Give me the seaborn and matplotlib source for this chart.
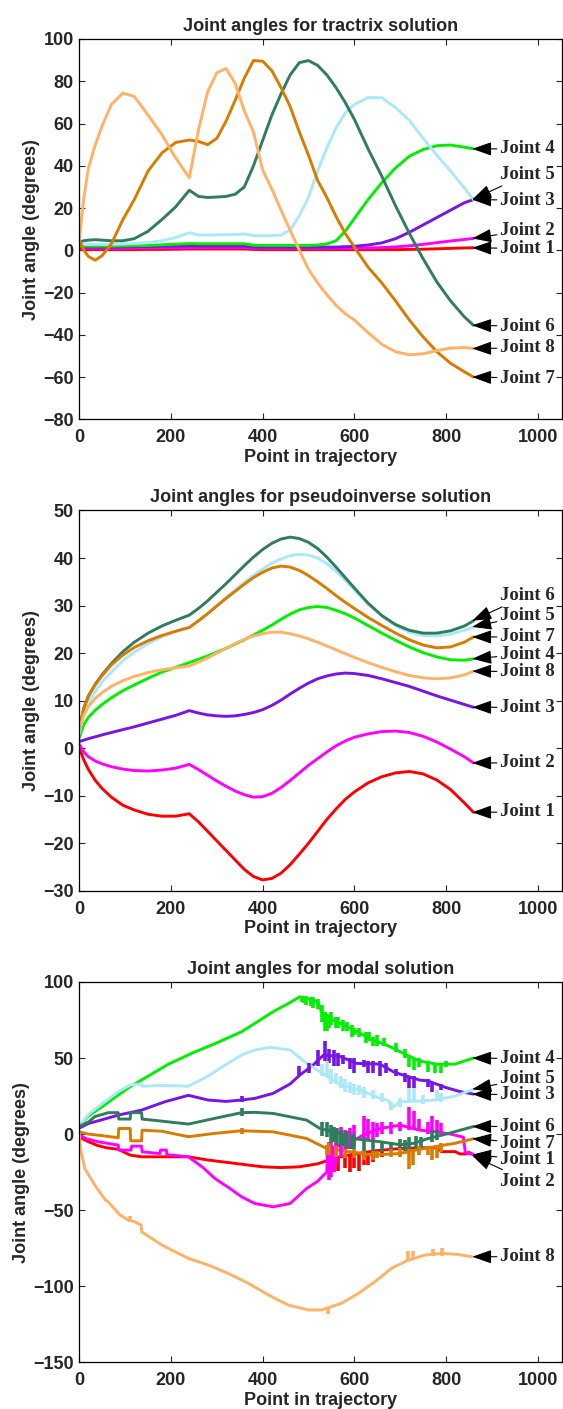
import numpy as np
import pandas as pd
import matplotlib
matplotlib.use("Agg")
import matplotlib.pyplot as plt
import seaborn as sns

# ---------------- data ----------------
joints = ["Joint 1", "Joint 2", "Joint 3", "Joint 4", "Joint 5", "Joint 6", "Joint 7", "Joint 8"]
colors = ["#ff0000", "#ff00ff", "#7814e6", "#00f000", "#aae8fa", "#2f7d5c", "#da7b00", "#ffb266"]

# shared sample points for tractrix and pseudoinverse panels
x_grid = [0, 10, 20, 35, 50, 70, 95, 120, 150, 180, 210, 240, 260, 280, 300, 320, 340, 360, 380, 400,
          420, 440, 460, 480, 500, 520, 540, 560, 580, 600, 630, 660, 690, 720, 750, 780, 810, 840, 860]

# tractrix solution
tr_j1 = [0.3, 0.3, 0.3, 0.3, 0.3, 0.3, 0.3, 0.3, 0.4, 0.4, 0.5, 0.6, 0.6, 0.6, 0.6, 0.6, 0.6, 0.6, 0.4, 0.3,
         0.3, 0.3, 0.3, 0.3, 0.3, 0.3, 0.3, 0.3, 0.3, 0.3, 0.3, 0.3, 0.3, 0.4, 0.5, 0.7, 0.9, 1.1, 1.2]
tr_j2 = [1.0, 1.0, 1.0, 1.0, 1.0, 1.0, 1.0, 1.1, 1.1, 1.2, 1.2, 1.3, 1.3, 1.3, 1.3, 1.3, 1.3, 1.3, 1.0, 1.0,
         1.0, 1.0, 1.0, 1.0, 1.0, 1.0, 1.0, 1.0, 1.0, 1.0, 1.1, 1.3, 1.6, 2.1, 2.8, 3.6, 4.4, 5.1, 5.6]
tr_j3 = [1.5, 1.5, 1.5, 1.5, 1.5, 1.5, 1.6, 1.7, 1.8, 1.9, 2.0, 2.1, 2.0, 2.0, 2.0, 2.0, 2.0, 2.0, 1.5, 1.5,
         1.5, 1.5, 1.5, 1.5, 1.5, 1.5, 1.5, 1.5, 1.7, 1.9, 2.5, 3.5, 5.5, 8.5, 12, 15.5, 19, 22.5, 24]
tr_j4 = [2.0, 2.0, 2.0, 2.0, 2.0, 2.0, 2.1, 2.2, 2.3, 2.6, 2.9, 3.2, 3.1, 3.1, 3.1, 3.1, 3.1, 3.1, 2.4, 2.3,
         2.3, 2.3, 2.3, 2.3, 2.3, 2.5, 3.0, 4.5, 9.0, 15, 24, 32, 39, 44.5, 47.7, 49.5, 49.8, 48.8, 48]
tr_j5 = [3.0, 2.8, 2.8, 2.8, 2.8, 2.8, 3.0, 3.2, 3.6, 4.5, 6.0, 8.3, 7.3, 7.2, 7.3, 7.4, 7.5, 7.7, 7.0, 6.8,
         7.0, 7.2, 9.5, 16.3, 25, 37.5, 48.5, 57.9, 65, 69, 72.3, 72.2, 67.5, 61.5, 53, 45, 37.5, 29.5, 24]
tr_j6 = [4.0, 4.5, 4.8, 5.0, 4.8, 4.5, 4.5, 5.5, 9.0, 14.5, 20.5, 28.4, 25.5, 25, 25.2, 25.5, 26.5, 30, 40, 52,
         64, 74, 83, 88.8, 89.8, 87.5, 83, 77, 70, 62, 48, 35, 21, 8, -4, -15, -24, -31.5, -35.5]
tr_j7 = [5, 0, -3, -4.7, -2.5, 3, 14.5, 24, 37.5, 46, 51, 52.2, 51.5, 50, 53, 61, 71, 81.5, 89.8, 89.5,
         85, 77, 68, 56, 45, 33, 25, 16, 8, 1.5, -8, -15.5, -24, -33, -41, -48, -53.5, -57.5, -60]
tr_j8 = [4.5, 25, 39, 50, 59, 69, 74.4, 72.8, 64, 54.8, 43.8, 34.3, 57, 75, 84, 86, 79, 66, 56, 38,
         29, 19, 9.5, 0, -9, -15.5, -21, -26, -30, -33, -39, -44.5, -48, -49.5, -49, -47.5, -46.3, -46, -46.5]

# pseudoinverse solution
ps_j1 = [0, -2.5, -4.5, -6.8, -8.5, -10.3, -12, -13, -13.9, -14.3, -14.3, -13.8, -15.5, -17.5, -19.5, -21.5,
         -23.5, -25.5, -27, -27.7, -27.4, -26.3, -24.5, -22.3, -20, -17.5, -15, -12.8, -10.8, -9.2, -7.3, -6,
         -5.2, -4.9, -5.4, -6.7, -8.7, -11.5, -13.5]
ps_j2 = [0.8, -0.8, -1.8, -2.7, -3.3, -3.9, -4.4, -4.7, -4.8, -4.6, -4.2, -3.4, -4.5, -5.7, -6.9, -8, -9, -9.8,
         -10.3, -10.2, -9.5, -8.3, -6.8, -5.2, -3.6, -2.2, -0.8, 0.5, 1.5, 2.3, 3.0, 3.5, 3.6, 3.3, 2.5, 1.3,
         -0.2, -1.8, -3.1]
ps_j3 = [1.4, 1.7, 2, 2.4, 2.8, 3.3, 3.9, 4.5, 5.3, 6.1, 6.9, 7.9, 7.4, 7, 6.8, 6.7, 6.8, 7.1, 7.5, 8.1,
         9, 10.1, 11.4, 12.6, 13.7, 14.6, 15.2, 15.6, 15.8, 15.7, 15.3, 14.6, 13.8, 13, 12, 11, 10.1, 9.2, 8.6]
ps_j4 = [2.2, 5, 6.5, 8, 9.2, 10.6, 12.1, 13.3, 14.7, 16, 17, 18, 18.7, 19.4, 20.2, 21, 21.9, 22.8, 23.8, 24.8,
         25.9, 27.1, 28.2, 29.1, 29.6, 29.8, 29.6, 29, 28.3, 27.4, 25.8, 24.2, 22.7, 21.3, 20.1, 19.2, 18.6, 18.5, 18.8]
ps_j5 = [3, 7.5, 9.5, 12, 14, 16, 18.4, 20.2, 22, 23.4, 24.5, 25.4, 26.8, 28.3, 30, 31.7, 33.3, 34.9, 36.4, 37.7,
         38.9, 39.8, 40.5, 40.8, 40.6, 40, 38.8, 37.2, 35.3, 33.3, 30.3, 27.8, 25.8, 24.4, 23.7, 23.6, 24, 24.8, 25.5]
ps_j6 = [4, 8.5, 11, 13.5, 15.5, 17.8, 20.3, 22.3, 24.2, 25.7, 26.9, 28, 29.4, 31, 32.8, 34.6, 36.5, 38.4, 40.2,
         41.8, 43.1, 44, 44.4, 44.1, 43.3, 42, 40.2, 38.1, 35.9, 33.7, 30.5, 27.9, 26, 24.8, 24.2, 24.2, 24.7, 25.7, 26.8]
ps_j7 = [4, 8.5, 11, 13.4, 15.3, 17.5, 19.6, 21.2, 22.6, 23.7, 24.6, 25.4, 26.8, 28.3, 29.9, 31.5, 33, 34.5, 35.9,
         37, 37.9, 38.3, 38.1, 37.4, 36.3, 35, 33.6, 32.1, 30.7, 29.4, 27.5, 25.8, 24.2, 22.8, 21.7, 21.1, 21.3, 22.3, 23.4]
ps_j8 = [4, 7, 8.8, 10.5, 11.7, 13, 14.2, 15.1, 15.9, 16.5, 16.9, 17.3, 18.1, 19, 20, 21, 22, 22.9, 23.6, 24.1,
         24.4, 24.4, 24.1, 23.6, 23, 22.3, 21.5, 20.7, 19.9, 19.1, 18, 17, 16.1, 15.3, 14.8, 14.6, 14.8, 15.4, 16.2]

# modal solution (own sample points per joint, steps included)
md_j1_x = [0, 20, 40, 60, 85, 111, 136, 180, 238, 280, 320, 360, 400, 440, 480, 520, 560, 600, 650, 700, 740,
           780, 790, 820, 830, 845, 850, 860]
md_j1_y = [-2, -5, -7.5, -9, -10, -13.8, -14.9, -14.9, -14.9, -17, -18.5, -20, -21.5, -22, -21.5, -19.5, -15.5,
           -13, -10.8, -9.5, -9, -9, -11.5, -11.5, -13, -13, -12, -13.5]
md_j2_x = [0, 15, 41, 70, 85, 86, 113, 114, 136, 137, 172, 176, 177, 190, 191, 238, 270, 296, 330, 354, 383, 423,
           460, 496, 520, 533, 540, 541, 569, 600, 619, 656, 700, 743, 780, 810, 838, 842, 860]
md_j2_y = [-0.6, -3, -5, -6.5, -7.2, -10.5, -10.5, -7.9, -7.9, -11.6, -12.7, -12.7, -10.5, -10.5, -13.5, -14.9,
           -22, -29.2, -36, -41.2, -45.6, -47.8, -45.6, -35.7, -31, -27, -25, -11.6, -7.2, -4, -0.6, 3.7, 5.9,
           2.6, 1.5, 0, -2, -12, -13.5]
md_j3_x = [0, 20, 50, 85, 136, 187, 238, 281, 320, 354, 383, 423, 460, 481, 510, 533, 569, 605, 656, 685, 700,
           743, 760, 800, 830, 860]
md_j3_y = [4, 7, 9.5, 12.5, 15.8, 21.3, 25.5, 22.4, 21.5, 22.4, 23.5, 26.8, 33, 38.8, 45.4, 52, 51, 46.5, 46,
           41, 39.4, 35.5, 35, 30.6, 28, 26.3]
md_j4_x = [0, 20, 50, 85, 110, 136, 194, 245, 300, 354, 383, 423, 460, 481, 496, 518, 533, 569, 605, 642, 678,
           714, 743, 780, 820, 860]
md_j4_y = [5, 12, 18, 25.7, 31, 35.6, 45.9, 53.1, 60, 67.3, 72.8, 80.5, 86.5, 90.3, 89.2, 87, 78, 73, 67.3,
           61.8, 57.5, 52, 48, 46, 46, 50]
md_j5_x = [0, 20, 50, 85, 111, 135, 137, 180, 238, 280, 318, 354, 383, 416, 460, 496, 525, 569, 612, 656, 675,
           680, 700, 743, 780, 820, 860]
md_j5_y = [5, 13, 20, 27.9, 32.3, 33, 31.5, 32, 31.5, 38, 45.4, 52, 55.3, 57, 55.3, 46.5, 41, 32.3, 29, 23.5,
           22, 17, 21.3, 21.8, 22.5, 25, 29.5]
md_j6_x = [0, 20, 34, 63, 85, 86, 111, 112, 136, 137, 172, 238, 296, 354, 383, 423, 496, 525, 569, 600, 656,
           700, 730, 760, 800, 830, 860]
md_j6_y = [5, 8, 11.5, 14.1, 14.1, 9.9, 9.9, 14.1, 14.1, 9.9, 8.8, 6.6, 10.4, 14.1, 14.3, 13.6, 9.2, 3.7, 0.5,
           -3, -5, -7, -6, -3, 0, 2.5, 5]
md_j7_x = [0, 20, 50, 85, 86, 111, 112, 136, 137, 180, 238, 296, 354, 423, 496, 540, 591, 642, 700, 743, 780,
           820, 860]
md_j7_y = [1.5, 0, -1, -2.4, 3.7, 3.7, -4.4, -4.4, 2.6, 1.9, -1.7, 0.5, 2.2, 1.5, -2.9, -9.5, -11.6, -13.8,
           -12.7, -10, -8, -6, -3]
md_j8_x = [0, 3, 12, 34, 56, 63, 89, 107, 120, 135, 136, 180, 238, 282, 325, 369, 413, 456, 500, 529, 572, 609,
           645, 681, 718, 754, 791, 827, 856]
md_j8_y = [0, -10, -22.6, -33.6, -43, -44.5, -53.2, -56.5, -57.5, -59.8, -64.2, -72.9, -81.7, -86.1, -91.6,
           -98.1, -105.8, -112.4, -115.6, -115.6, -111.2, -104.7, -97, -88.2, -82.8, -79.5, -78.4, -79.1, -80.6]

# modal solution jitter spikes: (point, low, high)
md_j1_spk = [(545, -22, -16), (555, -25, -15), (565, -24, -15), (580, -22, -14), (590, -25, -14),
             (600, -22, -13), (610, -24, -12), (620, -20, -12), (630, -20, -11), (640, -18, -11), (660, -15, -10)]
md_j2_spk = [(545, -30, -5), (550, -28, -6), (555, -25, -8), (560, -20, 0), (570, -15, 5), (580, -12, 3),
             (590, -10, 4), (600, -8, 6), (620, -5, 12), (630, -3, 10), (640, -3, 8), (650, -2, 7), (660, 0, 8),
             (680, 0, 8), (700, 2, 8), (720, 3, 18), (730, 3, 15), (740, 2, 10), (760, 0, 8), (770, 1, 12),
             (780, 1, 9), (790, 0, 7)]
md_j3_spk = [(355, 21, 25), (480, 38, 45), (500, 40, 47), (520, 45, 55), (537, 48, 61), (545, 47, 56),
             (555, 45, 55), (565, 45, 53), (575, 46, 52), (590, 43, 50), (600, 40, 50), (620, 44, 49),
             (630, 40, 48), (640, 40, 48), (655, 38, 48), (670, 40, 47), (690, 38, 43), (710, 34, 40),
             (720, 30, 38), (730, 30, 38), (760, 31, 36), (770, 28, 34), (790, 29, 33)]
md_j4_spk = [(485, 87, 91), (490, 86, 91), (495, 85, 90.5), (505, 84, 90), (510, 83, 90), (520, 82, 89),
             (530, 74, 85), (535, 68, 80), (540, 68, 79), (545, 70, 78), (550, 72, 80), (560, 70, 77),
             (565, 70, 77), (575, 68, 75), (585, 68, 74), (595, 64, 72), (600, 65, 70), (610, 64, 70),
             (625, 60, 67), (632, 61, 67), (640, 58, 64), (650, 58, 65), (665, 58, 63), (690, 54, 60),
             (710, 50, 56), (720, 44, 52), (730, 42, 50), (740, 44, 50), (760, 41, 48), (775, 40, 47),
             (790, 40, 47), (800, 44, 48)]
md_j5_spk = [(530, 38, 46), (540, 38, 48), (550, 33, 43), (560, 33, 40), (570, 30, 38), (580, 28, 36),
             (590, 27, 34), (600, 26, 33), (610, 26, 32), (620, 24, 31), (640, 23, 29), (660, 21, 27),
             (680, 16, 22), (700, 18, 24), (720, 21, 30), (730, 21, 30), (750, 20, 26), (780, 22, 29),
             (790, 21, 27)]
md_j6_spk = [(355, 12, 17), (530, -1, 8), (540, -2, 8), (548, -6, 6), (555, -5, 5), (562, -7, 4), (570, -8, 3),
             (578, -8, 1), (585, -10, 2), (595, -10, 0), (600, -10, 0), (620, -11, -2), (640, -12, -3),
             (660, -12, -5), (680, -11, -5), (700, -10, -3), (710, -11, -4), (720, -11, -2), (735, -10, -1),
             (745, -9, -2), (770, -5, 3), (780, -4, 3)]
md_j7_spk = [(355, 0, 4), (540, -14, -7), (545, -14, -6), (560, -15, -8), (580, -16, -10), (600, -16, -10),
             (620, -17, -11), (640, -17, -11), (650, -16, -11), (680, -15, -10), (700, -15, -9), (720, -23, -10),
             (728, -20, -10), (740, -14, -8), (760, -14, -8), (770, -17, -8), (780, -16, -8), (790, -12, -6)]
md_j8_spk = [(110, -58, -54), (543, -118, -114), (718, -83, -77), (728, -82, -77), (772, -80, -75.8),
             (791, -80, -75)]

# end-of-line labels: (label, text y, arrow tip y)
tr_labels = [("Joint 4", 48, 48), ("Joint 5", 36, 24), ("Joint 3", 23.7, 24), ("Joint 2", 9.5, 5.6),
             ("Joint 1", 0.8, 1.2), ("Joint 6", -36, -35.5), ("Joint 8", -46.2, -46.5), ("Joint 7", -60.5, -60)]
ps_labels = [("Joint 6", 32.2, 26.8), ("Joint 5", 28, 25.5), ("Joint 7", 23.4, 23.4), ("Joint 4", 19.8, 18.8),
             ("Joint 8", 16.1, 16.2), ("Joint 3", 8.6, 8.6), ("Joint 2", -3.1, -3.1), ("Joint 1", -13.4, -13.5)]
md_labels = [("Joint 4", 49.6, 50), ("Joint 5", 36.7, 29.5), ("Joint 3", 25.8, 26.3), ("Joint 6", 5.1, 5),
             ("Joint 7", -6, -3), ("Joint 1", -16.7, -13.5), ("Joint 2", -31.1, -14), ("Joint 8", -80.6, -80.6)]

titles = ["Joint angles for tractrix solution", "Joint angles for pseudoinverse solution",
          "Joint angles for modal solution"]
yticks_list = [list(range(-80, 101, 20)), list(range(-30, 51, 10)), list(range(-150, 101, 50))]
xticks = [0, 200, 400, 600, 800, 1000]
xlabel = "Point in trajectory"
ylabel = "Joint angle (degrees)"

# ---------------- style ----------------
sns.set_style("ticks")
plt.rcParams["font.family"] = ["Liberation Sans", "DejaVu Sans"]
plt.rcParams["font.weight"] = "bold"
plt.rcParams["axes.labelweight"] = "bold"
plt.rcParams["axes.titleweight"] = "bold"
palette = dict(zip(joints, colors))

W, H = 563, 1409
fig = plt.figure(figsize=(W / 100, H / 100), dpi=100)
left = 79.3 / W
width = (562.0 - 79.3) / W
tops = [39.0, 510.5, 982.0]
hpx = 380.3


def long_df(xs_list, ys_list):
    frames = []
    for j, xs, ys in zip(joints, xs_list, ys_list):
        frames.append(pd.DataFrame({"point": xs, "angle": ys, "joint": j}))
    return pd.concat(frames, ignore_index=True)


panels = [
    long_df([x_grid] * 8, [tr_j1, tr_j2, tr_j3, tr_j4, tr_j5, tr_j6, tr_j7, tr_j8]),
    long_df([x_grid] * 8, [ps_j1, ps_j2, ps_j3, ps_j4, ps_j5, ps_j6, ps_j7, ps_j8]),
    long_df([md_j1_x, md_j2_x, md_j3_x, md_j4_x, md_j5_x, md_j6_x, md_j7_x, md_j8_x],
            [md_j1_y, md_j2_y, md_j3_y, md_j4_y, md_j5_y, md_j6_y, md_j7_y, md_j8_y]),
]
spikes = [md_j1_spk, md_j2_spk, md_j3_spk, md_j4_spk, md_j5_spk, md_j6_spk, md_j7_spk, md_j8_spk]
labels_all = [tr_labels, ps_labels, md_labels]

for k in range(3):
    top = tops[k]
    ax = fig.add_axes([left, (H - top - hpx) / H, width, hpx / H])
    df = panels[k]
    if k == 2:
        for i, (spk, c) in enumerate(zip(spikes, colors)):
            sx = [s[0] for s in spk]
            lo = [s[1] for s in spk]
            hi = [s[2] for s in spk]
            ax.vlines(sx, lo, hi, colors=c, linewidth=2.6, zorder=2 + i * 0.01)
    sns.lineplot(data=df, x="point", y="angle", hue="joint", palette=palette, hue_order=joints,
                 estimator=None, sort=False, legend=False, linewidth=2.1, ax=ax)
    yt = yticks_list[k]
    ax.set_xlim(0, 1053)
    ax.set_ylim(yt[0], yt[-1])
    ax.set_xticks(xticks)
    ax.set_yticks(yt)
    ax.set_yticklabels([str(v).replace("-", "\u2212") for v in yt])
    ax.tick_params(direction="in", length=4, width=0.8, top=True, right=True, labelsize=13)
    ax.tick_params(axis="x", pad=7)
    ax.tick_params(axis="y", pad=4)
    for sp in ax.spines.values():
        sp.set_visible(True)
        sp.set_linewidth(0.9)
        sp.set_color("black")
    ax.set_title(titles[k], fontsize=13, fontweight="bold", pad=6)
    ax.set_xlabel(xlabel, fontsize=13, fontweight="bold", labelpad=2)
    ax.set_ylabel(ylabel, fontsize=13, fontweight="bold", labelpad=2)
    for lab, ty, tip in labels_all[k]:
        ax.annotate(lab, xy=(857, tip), xytext=(918, ty), textcoords="data", ha="left", va="center",
                    fontsize=13.5, fontweight="bold", family=["Liberation Serif", "DejaVu Serif"],
                    annotation_clip=False,
                    arrowprops=dict(arrowstyle="-|>,head_length=1.2,head_width=0.42", color="black",
                                    lw=0.8, mutation_scale=10, shrinkA=0, shrinkB=0))

fig.savefig("out.png", dpi=100)
